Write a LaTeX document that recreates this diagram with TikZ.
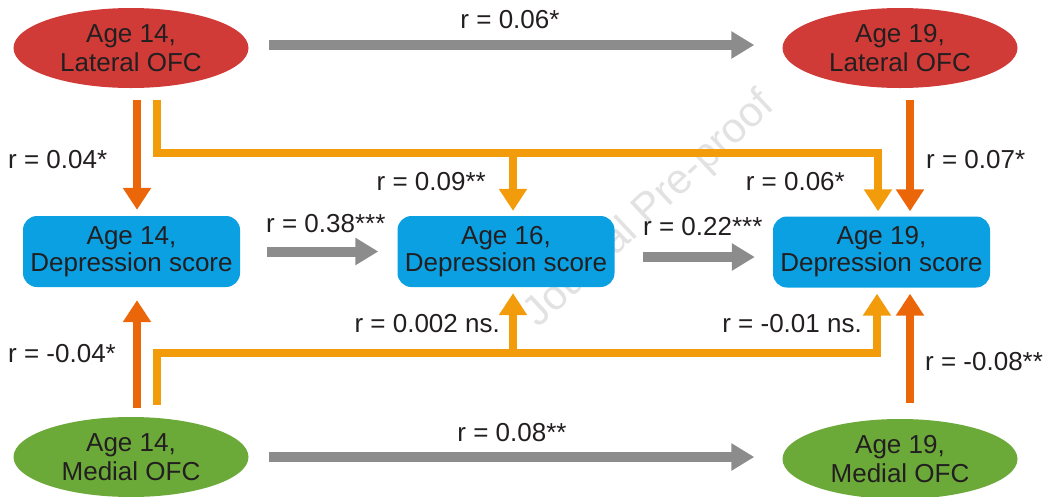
\documentclass[tikz,border=0pt]{standalone}
\usepackage{fontspec}
\setmainfont{Liberation Sans}
\usetikzlibrary{arrows.meta,shapes.geometric,calc}
\definecolor{cred}{HTML}{D03B37}
\definecolor{cgreen}{HTML}{6BA939}
\definecolor{cblue}{HTML}{0AA0E2}
\definecolor{cdor}{HTML}{EB6608}
\definecolor{clor}{HTML}{F39C0B}
\definecolor{cgray}{HTML}{8C8C8C}
\definecolor{ctext}{HTML}{231F20}
\definecolor{cwm}{HTML}{E2E2E2}
\begin{document}
\begin{tikzpicture}[x=1pt,y=-1pt,
  txt/.style={font=\fontsize{26}{27}\selectfont, text=ctext},
  ovalnode/.style={ellipse, minimum width=235pt, minimum height=80pt, inner sep=0pt, align=center, txt, font=\fontsize{26}{29}\selectfont},
  boxnode/.style={rectangle, rounded corners=14pt, fill=cblue, minimum width=217pt, minimum height=71pt, inner sep=0pt, align=center, txt},
  grayarrow/.style={draw=cgray, line width=10pt, -{Triangle[width=26pt,length=23pt]}},
  dorarrow/.style={draw=cdor, line width=8pt, -{Triangle[width=27pt,length=22pt]}},
  lorarrow/.style={draw=clor, line width=8pt, line join=miter, -{Triangle[width=27pt,length=22pt]}},
  lab/.style={txt, inner sep=0pt}
]
\useasboundingbox (0,0) rectangle (1047,496);
\fill[white] (0,0) rectangle (1047,496);
% watermark
\node[font=\fontsize{42}{42}\selectfont, text=cwm, rotate=43] (wm) at (650,210) {Journal Pre-proof};

% nodes
\node[ovalnode, fill=cred] (lat14) at (131,48) {Age 14,\\Lateral OFC};
\node[ovalnode, fill=cred] (lat19) at (900,48) {Age 19,\\Lateral OFC};
\node[boxnode] (dep14) at (131.5,251.5) {Age 14,\\Depression score};
\node[boxnode] (dep16) at (506,251.5) {Age 16,\\Depression score};
\node[boxnode] (dep19) at (881.5,252) {Age 19,\\Depression score};
\node[ovalnode, fill=cgreen] (med14) at (131,457) {Age 14,\\Medial OFC};
\node[ovalnode, fill=cgreen] (med19) at (900,459) {Age 19,\\Medial OFC};

% gray arrows
\draw[grayarrow] ([xshift=20pt,yshift=3pt]lat14.east) -- ([xshift=-28pt,yshift=3pt]lat19.west);
\coordinate (m19w) at ([xshift=-28pt]med19.west);
\draw[grayarrow] ([xshift=20pt]med14.east) -- (m19w |- med14.east);
\draw[grayarrow] ([xshift=27pt]dep14.east) -- ([xshift=-19pt]dep16.west);
\draw[grayarrow] ([xshift=28pt,yshift=-5.5pt]dep16.east) -- ([xshift=-18pt,yshift=-5pt]dep19.west);

% top orange arrows
\coordinate (topbus) at (0,153);
\coordinate (t19) at ([xshift=-3.5pt,yshift=5pt]dep19.north);
\coordinate (t16) at ([xshift=7pt,yshift=5pt]dep16.north);
\draw[dorarrow] ([xshift=6pt,yshift=-12pt]lat14.south) -- ([xshift=5.5pt,yshift=6pt]dep14.north);
\draw[lorarrow] ([xshift=26pt,yshift=-12pt]lat14.south) |- (t19 |- topbus) -- (t19);
\draw[lorarrow] (t16 |- topbus) -- (t16);
\draw[dorarrow] ([xshift=10pt,yshift=-12pt]lat19.south) -- ([xshift=28.5pt,yshift=5pt]dep19.north);

% bottom orange arrows
\coordinate (botbus) at (0,353);
\coordinate (b19) at ([xshift=-4.5pt,yshift=-6pt]dep19.south);
\coordinate (b16) at ([xshift=7pt,yshift=-6pt]dep16.south);
\draw[dorarrow] ([xshift=6pt,yshift=9pt]med14.north) -- ([xshift=5.5pt,yshift=-13pt]dep14.south);
\draw[lorarrow] ([xshift=26pt,yshift=12pt]med14.north) |- (b19 |- botbus) -- (b19);
\draw[lorarrow] (b16 |- botbus) -- (b16);
\draw[dorarrow] ([xshift=10pt,yshift=16pt]med19.north) -- ([xshift=28.5pt,yshift=-6pt]dep19.south);

% labels
\node[lab, anchor=base] (r1) at (510,28) {r = 0.06*};
\node[lab, anchor=base west] (r2) at (8,168) {r = 0.04*};
\node[lab, anchor=base east] (r3) at (486,190) {r = 0.09**};
\node[lab, anchor=base east] (r4) at (845,190) {r = 0.06*};
\node[lab, anchor=base west] (r5) at (926,168) {r = 0.07*};
\node[lab, anchor=base west] (r6) at (266,232) {r = 0.38***};
\node[lab, anchor=base west] (r7) at (643,235) {r = 0.22***};
\node[lab, anchor=base east] (r8) at (500,332) {r = 0.002 ns.};
\node[lab, anchor=base east] (r9) at (862,332) {r = -0.01 ns.};
\node[lab, anchor=base west] (r10) at (8,362) {r = -0.04*};
\node[lab, anchor=base west] (r11) at (925,370) {r = -0.08**};
\node[lab, anchor=base] (r12) at (512,441) {r = 0.08**};
\end{tikzpicture}
\end{document}
